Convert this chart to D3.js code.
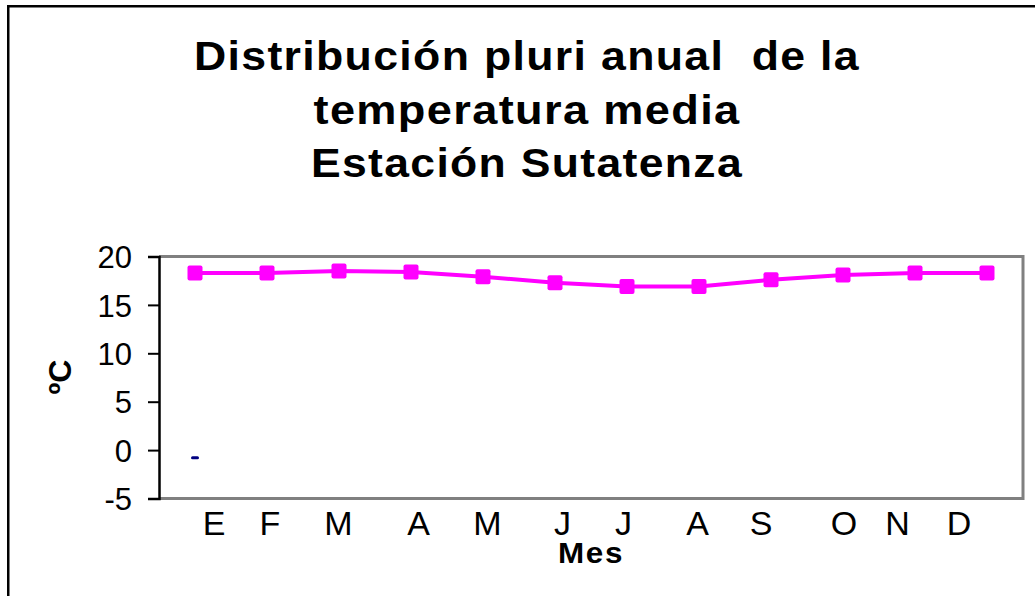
<!DOCTYPE html>
<html><head><meta charset="utf-8">
<script src="https://cdn.jsdelivr.net/npm/d3@7"></script>
<style>html,body{margin:0;padding:0;background:#fff;overflow:hidden}</style>
</head><body>
<script>
// ---- data ----
const months = ["E","F","M","A","M","J","J","A","S","O","N","D"];
const tempMedia = [18.3, 18.3, 18.5, 18.4, 17.9, 17.3, 16.9, 16.9, 17.6, 18.1, 18.3, 18.3];
const serie2 = [-0.8, null, null, null, null, null, null, null, null, null, null, null];
const yTicks = [-5, 0, 5, 10, 15, 20];
const titleLines = ["Distribución pluri anual  de la", "temperatura media", "Estación Sutatenza"];
const xTitle = "Mes";
const yTitle = "ºC";

// ---- layout (style only) ----
const W = 1035, H = 596;
const plot = {left: 159, right: 1023, top: 256.5, bottom: 498.5};
const labelNudge = [19, 3, -0.5, 7.5, 4.5, 7.5, -3.5, -1.5, -10, 1, -17.5, -28];
const font = "'Liberation Sans', Arial, sans-serif";

const svg = d3.select("body").append("svg").attr("width", W).attr("height", H)
  .style("font-family", font);
svg.append("rect").attr("width", W).attr("height", H).attr("fill", "#fff");
// outer frame (right/bottom cropped)
svg.append("rect").attr("x", 8.25).attr("y", 6.25).attr("width", 1200).attr("height", 800)
  .attr("fill", "none").attr("stroke", "#000").attr("stroke-width", 2.5);

// title
const titleW = [666, 427, 432];
svg.append("g").selectAll("text").data(titleLines).join("text")
  .attr("x", 527).attr("y", (d, i) => 70 + i * 53.5)
  .attr("text-anchor", "middle").attr("font-size", 40).attr("font-weight", "bold")
  .attr("letter-spacing", 1.2)
  .attr("textLength", (d, i) => titleW[i]).attr("lengthAdjust", "spacingAndGlyphs")
  .attr("xml:space", "preserve")
  .text(d => d);

const x = d3.scaleBand().domain(d3.range(months.length)).range([plot.left, plot.right]);
const y = d3.scaleLinear().domain([-5, 20]).range([plot.bottom, plot.top]);

// plot frame: gray top/right/bottom
svg.append("path")
  .attr("d", `M${plot.left},${plot.top}H${plot.right}V${plot.bottom}H${plot.left}`)
  .attr("fill", "none").attr("stroke", "#808080").attr("stroke-width", 3);

// y axis
const yAxis = d3.axisLeft(y).tickValues(yTicks).tickSize(11).tickPadding(16).tickFormat(d => String(d));
const gy = svg.append("g").attr("transform", `translate(${plot.left},0)`).call(yAxis);
gy.select(".domain").attr("stroke", "#000").attr("stroke-width", 2.5);
gy.selectAll(".tick line").attr("stroke", "#000").attr("stroke-width", 2);
gy.selectAll(".tick text").attr("font-size", 31).attr("fill", "#000").attr("font-family", font)
  .attr("dy", "0.36em");

// x labels
const xAxis = d3.axisBottom(x).tickSize(0).tickPadding(0).tickFormat(i => months[i]);
const gx = svg.append("g").attr("transform", `translate(0,${plot.bottom})`).call(xAxis);
gx.select(".domain").remove();
gx.selectAll(".tick text").attr("font-size", 34).attr("fill", "#000").attr("font-family", font)
  .attr("dy", 0).attr("y", 36.5)
  .attr("x", (i) => labelNudge[i]);

// axis titles
svg.append("text").attr("x", (plot.left + plot.right) / 2).attr("y", 563)
  .attr("text-anchor", "middle").attr("font-size", 29).attr("font-weight", "bold")
  .attr("letter-spacing", 1.5)
  .attr("textLength", 66).attr("lengthAdjust", "spacingAndGlyphs").text(xTitle);
svg.append("text").attr("transform", "translate(71,377) rotate(-90)")
  .attr("text-anchor", "middle").attr("font-size", 32).attr("font-weight", "bold").text(yTitle);

// series 2 (dash marker)
svg.append("g").selectAll("rect").data(serie2.map((v, i) => ({v, i})).filter(d => d.v != null)).join("rect")
  .attr("x", d => x(d.i) + x.bandwidth() / 2 - 4).attr("y", d => y(d.v) - 1.5)
  .attr("width", 8).attr("height", 3).attr("rx", 1.5).attr("fill", "#000080");

// main line
const cx = i => x(i) + x.bandwidth() / 2;
svg.append("path").datum(tempMedia)
  .attr("d", d3.line().x((d, i) => cx(i)).y(d => y(d)))
  .attr("fill", "none").attr("stroke", "#FF00FF").attr("stroke-width", 4);
svg.append("g").selectAll("rect").data(tempMedia).join("rect")
  .attr("x", (d, i) => cx(i) - 7.5).attr("y", d => y(d) - 7.5)
  .attr("width", 15).attr("height", 15).attr("rx", 2).attr("fill", "#FF00FF");
</script>
</body></html>
